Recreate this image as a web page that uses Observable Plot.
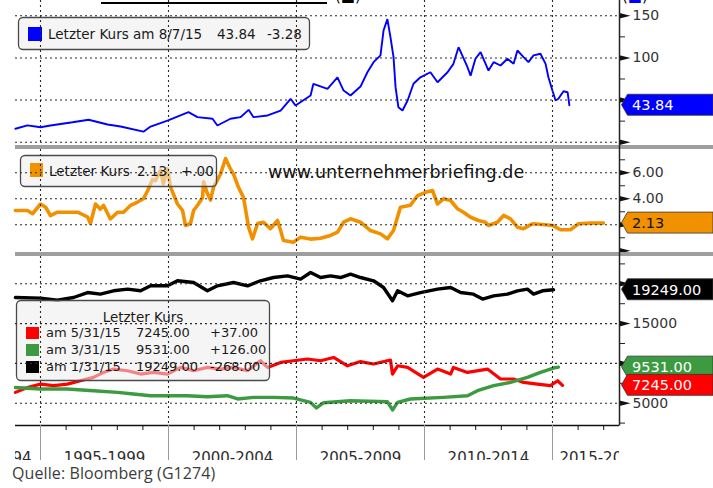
<!DOCTYPE html>
<html>
<head>
<meta charset="utf-8">
<script src="https://cdn.jsdelivr.net/npm/d3@7"></script>
<script src="https://cdn.jsdelivr.net/npm/@observablehq/plot@0.6"></script>
<style>
  html, body { margin: 0; padding: 0; background: #fff; }
  #root { position: relative; width: 713px; height: 488px; overflow: hidden; background: #fff; font-family: "DejaVu Sans", sans-serif; }
  .pw { position: absolute; left: 0; width: 713px; }
  .sep { position: absolute; left: 15px; width: 698px; height: 4px; background: #9f9f9f; }
  #caption { position: absolute; left: 12px; top: 464px; font-family: "Open Sans", sans-serif; font-size: 16px; letter-spacing: 0.1px; line-height: 19px; color: #3c3c3c; white-space: nowrap; }
  #topline { position: absolute; left: 101px; top: 2px; width: 226px; height: 2px; background: #000; }
  .remnant { position: absolute; top: -12px; font-size: 15px; line-height: 16px; white-space: nowrap; color: #000; }
</style>
</head>
<body>
<div id="root"></div>
<script>
// ---------------- DATA ----------------
const wtiYears = [1994.02,1994.49,1995.00,1995.39,1996.25,1996.88,1997.62,1998.13,1999.02,1999.30,1999.96,2000.78,2001.13,2001.72,2001.91,2002.42,2002.81,2003.13,2003.32,2003.87,2004.38,2004.77,2004.96,2005.55,2005.66,2006.21,2006.60,2006.84,2007.11,2007.50,2007.77,2008.01,2008.28,2008.40,2008.55,2008.67,2008.79,2008.87,2008.98,2009.14,2009.34,2009.57,2009.84,2010.23,2010.51,2010.90,2011.13,2011.33,2011.68,2011.80,2011.99,2012.19,2012.50,2012.70,2012.97,2013.24,2013.48,2013.63,2013.87,2014.06,2014.26,2014.53,2014.73,2014.84,2015.00,2015.12,2015.23,2015.43,2015.59,2015.66];
const wti = [16,20,17.8,19.8,23.7,26.6,21,18.6,12.5,18.6,25.7,35.6,29.7,27.8,19.8,27.8,29.7,38.4,29.7,31.7,37.6,51.5,43.5,55.4,69.3,63.4,77,61.3,55.4,66,83,95,103,132.5,146,124.6,101,65,41.5,37.6,49.5,69.3,77,83,71.2,83,93,112.7,89,79,99,106.8,85,95,91,99,93,108.8,101,95,103,105,93,77,61,49.5,51.5,60.5,59.3,43.84];
const gasYears = [1994.02,1994.49,1994.69,1995.00,1995.20,1995.39,1995.66,1996.05,1996.45,1996.84,1996.95,1997.15,1997.34,1997.46,1997.73,1998.01,1998.24,1998.52,1998.79,1999.02,1999.18,1999.38,1999.49,1999.69,1999.80,1999.96,2000.08,2000.35,2000.55,2000.66,2000.86,2000.98,2001.17,2001.33,2001.37,2001.52,2001.64,2001.76,2002.03,2002.23,2002.42,2002.54,2002.73,2002.93,2003.13,2003.28,2003.48,2003.71,2003.98,2004.26,2004.38,2004.49,2004.88,2005.16,2005.55,2005.94,2006.33,2006.60,2006.84,2007.11,2007.50,2007.89,2008.28,2008.55,2008.79,2009.06,2009.45,2009.73,2010.04,2010.31,2010.51,2010.74,2011.02,2011.29,2011.52,2011.80,2012.11,2012.38,2012.50,2012.85,2013.09,2013.36,2013.63,2013.87,2014.22,2014.61,2015.00,2015.31,2015.70,2016.02,2016.48,2016.99];
const gas = [3.1,3.1,2.85,3.6,3.35,2.7,2.97,2.97,2.97,2.6,2.1,3.6,3.2,3.5,2.45,2.97,2.97,3.5,3.75,4.0,4.6,5.5,5.4,6.2,5.15,6.3,4.9,3.6,3.1,1.95,2.1,3.1,3.6,4.1,5.3,4.4,3.9,4.9,5.9,7.1,6.3,5.9,4.9,4.1,1.8,0.92,2.1,2.2,1.7,2.33,1.56,0.8,0.66,1.05,0.9,0.97,1.18,1.43,2.2,2.46,2.2,1.56,1.3,0.92,1.56,3.35,3.5,4.25,4.5,4.64,3.6,4.0,3.87,3.23,2.97,2.58,2.33,2.2,1.95,2.2,2.72,2.46,1.82,1.7,2.08,2.02,1.95,1.62,1.62,2.08,2.13,2.13];
const blackYears = [1994.02,1995.00,1995.66,1996.29,1996.84,1997.34,1997.85,1998.40,1998.91,1999.30,1999.96,2000.35,2000.98,2001.52,2001.91,2002.54,2003.09,2003.59,2004.10,2004.65,2005.16,2005.55,2005.94,2006.33,2006.72,2007.11,2007.50,2008.01,2008.40,2008.75,2008.95,2009.34,2009.84,2010.51,2011.02,2011.41,2011.91,2012.27,2012.70,2013.24,2013.63,2014.02,2014.26,2014.61,2015.04];
const blackVals = [18280,18200,17950,18280,18900,18700,19120,19330,19120,19750,19750,20380,20160,19120,19750,20160,19750,20380,20790,21000,20590,21420,20790,21000,20790,21210,20790,20380,19540,17870,19120,18490,18900,19330,19540,18900,18700,18080,18490,18700,19120,19330,18700,19120,19249];
const redYears = [1994.02,1994.49,1995.00,1995.51,1996.05,1996.56,1997.07,1997.46,1997.85,1998.40,1998.91,1999.41,1999.96,2000.47,2000.98,2001.52,2002.03,2002.54,2003.09,2003.59,2003.87,2004.38,2004.88,2005.43,2005.94,2006.45,2006.99,2007.50,2008.01,2008.67,2008.75,2008.95,2009.34,2009.96,2010.51,2011.02,2011.13,2011.68,2012.46,2012.97,2013.48,2013.87,2014.41,2014.92,2015.20,2015.39];
const redVals = [6360,6980,7400,7200,7400,7820,8240,8870,9290,9080,8660,8870,8660,9500,9080,9500,9290,9500,9080,10330,9500,10120,10330,10550,10330,10750,9700,10230,9920,10420,8660,9700,9500,8240,9290,8660,9500,8870,9290,8040,8040,7610,7400,7200,7820,7245];
const greenYears = [1994.02,1995.00,1996.05,1997.07,1998.01,1998.63,1999.30,1999.96,2000.74,2001.52,2002.30,2002.70,2003.32,2004.10,2004.88,2005.55,2005.78,2006.05,2007.11,2008.55,2008.75,2008.95,2009.45,2010.74,2011.68,2012.07,2012.70,2013.36,2014.02,2014.53,2015.04,2015.23];
const greenVals = [6980,6780,6780,6570,6360,6150,5940,5940,5940,5820,5940,5530,5730,5730,5650,5100,4400,5050,5310,5190,4150,5100,5530,5730,5940,6570,7200,7610,8240,8870,9420,9531];

const gridYears = [1995, 2000, 2005, 2010, 2015];
const allYears = d3.range(1995, 2018);
const periodStarts = [1990, 1995, 2000, 2005, 2010, 2015];
const periods = ["1990-1994", "1995-1999", "2000-2004", "2005-2009", "2010-2014", "2015-2019"];
const p1Major = [0, 50, 100, 150], p1Labels = [100, 150], p1Minor = [25, 75, 125];
const p2Major = [0, 2, 4, 6], p2Grid = [2, 4, 6], p2Labels = [4, 6], p2Minor = [1, 3, 5, 7];
const p3Major = [5000, 10000, 15000, 20000], p3Labels = [5000, 15000], p3Minor = [2500, 7500, 12500, 17500, 22500];

const legendTop = ["Letzter Kurs am 8/7/15", "43.84", "-3.28"];
const legendMid = ["Letzter Kurs", "2.13", "+.00"];
const watermark = "www.unternehmerbriefing.de";
const legendBottomTitle = "Letzter Kurs";
const legendBottomDates = ["am 5/31/15", "am 3/31/15", "am 1/31/15"];
const legendBottomVals = ["7245.00", "9531.00", "19249.00"];
const legendBottomChg = ["+37.00", "+126.00", "-268.00"];
const caption = "Quelle: Bloomberg (G1274)";

// ---------------- STYLE ----------------
const BLUE = "#0000ff", ORANGE = "#f29100", BLACK = "#000000", RED = "#ff0000", GREEN = "#3c9b41";
const xDomain = [1994.0234, 2017.6172];
const root = document.getElementById("root");
const gridStyle = {stroke: "#2a2a2a", strokeWidth: 1.1, strokeDasharray: "2,3"};
const triSym = {draw(ctx) { ctx.moveTo(0, -2.8); ctx.lineTo(11, 0); ctx.lineTo(0, 2.8); ctx.closePath(); }};
const FONT = "DejaVu Sans, sans-serif";

function base(height, marginBottom, yDomain, marks) {
  return Plot.plot({
    width: 713, height, marginLeft: 15, marginRight: 94, marginTop: 0, marginBottom,
    x: {type: "linear", domain: xDomain, axis: null},
    y: {type: "linear", domain: yDomain, axis: null},
    style: {background: "white", fontFamily: FONT, fontSize: "14px", overflow: "hidden"},
    marks
  });
}
function rightAxis(major, labels, minor, fmt) {
  return [
    Plot.axisY(minor, {anchor: "right", tickSize: 5, tickFormat: () => "", stroke: "#222", label: null}),
    Plot.axisY(labels, {anchor: "right", tickSize: 0, tickPadding: 13, tickFormat: fmt, fill: "#333", fontSize: 14, label: null}),
    Plot.dot(major, {y: d => d, frameAnchor: "right", symbol: triSym, r: 3, fill: "#111", stroke: "none"})
  ];
}
function place(node, top) {
  const div = document.createElement("div");
  div.className = "pw";
  div.style.top = top + "px";
  div.appendChild(node);
  root.appendChild(div);
}
function box(g, x, y, w, h) {
  g.append("rect").attr("x", x).attr("y", y).attr("width", w).attr("height", h).attr("rx", 4.5)
    .attr("fill", "#ececec").attr("fill-opacity", 0.55).attr("stroke", "#4a4a4a").attr("stroke-width", 1.3);
}
function lg() {
  return d3.create("svg:g").attr("font-family", FONT).attr("text-anchor", "start").attr("fill", "#1a1a1a");
}

// ---------------- PANEL 1 ----------------
const legend1 = () => {
  const g = lg().attr("font-size", 13.5);
  box(g, 18.5, 17.5, 291, 32);
  g.append("rect").attr("x", 28).attr("y", 27).attr("width", 14).attr("height", 14).attr("fill", BLUE);
  g.append("text").attr("x", 48).attr("y", 39).text(legendTop[0]);
  g.append("text").attr("x", 217).attr("y", 39).text(legendTop[1]);
  g.append("text").attr("x", 267).attr("y", 39).text(legendTop[2]);
  return g.node();
};
const y1Domain = [-3.92, 168.16];
const chart1 = base(145, 0, y1Domain, [
  Plot.line(wti, {x: wtiYears, y: wti, stroke: BLUE, strokeWidth: 1.9, strokeLinejoin: "miter"}),
  legend1,
  Plot.ruleX(gridYears, gridStyle),
  Plot.ruleY(p1Major, gridStyle),
  ...rightAxis(p1Major, p1Labels, p1Minor, d3.format("d"))
]);
place(chart1, 0);

// ---------------- PANEL 2 ----------------
const legend2 = () => {
  const g = lg();
  box(g, 20.5, 6.5, 196, 31);
  g.append("rect").attr("x", 30).attr("y", 14).attr("width", 13).attr("height", 14).attr("fill", ORANGE);
  g.append("text").attr("x", 49).attr("y", 27).attr("font-size", 13.5).text(legendMid[0]);
  g.append("text").attr("x", 137).attr("y", 27).attr("font-size", 13.5).text(legendMid[1]);
  g.append("text").attr("x", 181).attr("y", 27).attr("font-size", 13.5).text(legendMid[2]);
  g.append("text").attr("x", 268).attr("y", 29).attr("font-size", 17.5).attr("fill", "#111").text(watermark);
  return g.node();
};
const y2Domain = [-0.131, 7.792];
const chart2 = base(103, 0, y2Domain, [
  Plot.line(gas, {x: gasYears, y: gas, stroke: ORANGE, strokeWidth: 3.6, strokeLinejoin: "round"}),
  legend2,
  Plot.ruleX(gridYears, gridStyle),
  Plot.ruleY(p2Grid, gridStyle),
  ...rightAxis(p2Major, p2Labels, p2Minor, d3.format(".2f"))
]);
place(chart2, 149);

// ---------------- PANEL 3 ----------------
const legend3 = () => {
  const g = lg().attr("font-size", 13);
  box(g, 16.5, 44.5, 253, 80);
  g.append("text").attr("x", 143).attr("y", 66).attr("text-anchor", "middle").attr("font-size", 13.5).text(legendBottomTitle);
  const cols = [RED, GREEN, BLACK];
  legendBottomDates.forEach((d, i) => {
    const by = 81 + i * 17;
    g.append("rect").attr("x", 26).attr("y", by - 10).attr("width", 13).attr("height", 12).attr("fill", cols[i]);
    g.append("text").attr("x", 46).attr("y", by).text(d);
    g.append("text").attr("x", 136).attr("y", by).text(legendBottomVals[i]);
    g.append("text").attr("x", 210).attr("y", by).text(legendBottomChg[i]);
  });
  return g.node();
};
const y3Domain = [2199, 23430];
const labelStyle = {frameAnchor: "bottom", dy: 37, lineAnchor: "bottom", fontSize: 15, fill: "#2d2d2d"};
const chart3 = base(204, 35, y3Domain, [
  Plot.line(blackVals, {x: blackYears, y: blackVals, stroke: BLACK, strokeWidth: 3.4, strokeLinejoin: "round"}),
  Plot.line(redVals, {x: redYears, y: redVals, stroke: RED, strokeWidth: 3.2, strokeLinejoin: "round"}),
  Plot.line(greenVals, {x: greenYears, y: greenVals, stroke: GREEN, strokeWidth: 3.4, strokeLinejoin: "round"}),
  legend3,
  Plot.ruleX(gridYears, gridStyle),
  Plot.ruleY(p3Major, gridStyle),
  ...rightAxis(p3Major, p3Labels, p3Minor, d3.format("d")),
  Plot.ruleY([y3Domain[0]], {stroke: "#111", strokeWidth: 1.4}),
  Plot.axisX(allYears, {anchor: "bottom", tickSize: 5, tickFormat: () => "", stroke: "#111", label: null}),
  Plot.axisX(gridYears, {anchor: "bottom", tickSize: 35, tickFormat: () => "", stroke: "#999", label: null}),
  Plot.text([0], {x: () => periodStarts[1], text: () => periods[0], textAnchor: "end", dx: -9, ...labelStyle}),
  Plot.text(d3.range(1, periods.length - 1), {x: i => periodStarts[i] + 2.5, text: i => periods[i], textAnchor: "middle", ...labelStyle}),
  Plot.text([periods.length - 1], {x: i => periodStarts[i], text: i => periods[i], textAnchor: "start", dx: 7, ...labelStyle})
]);
{
  const s = d3.select(chart3);
  s.append("defs").append("clipPath").attr("id", "pclip")
    .append("rect").attr("x", 15).attr("y", 0).attr("width", 604).attr("height", 204);
  const wrap = s.append("g").attr("clip-path", "url(#pclip)");
  const parents = new Set();
  s.selectAll("text").each(function () { if (periods.includes(this.textContent)) parents.add(this.parentNode); });
  parents.forEach(p => wrap.node().appendChild(p));
}
place(chart3, 256);

[145, 252].forEach(t => { const d = document.createElement("div"); d.className = "sep"; d.style.top = t + "px"; root.appendChild(d); });

// ---------------- OVERLAY: axis line + value flags ----------------
const ov = d3.select(root).append("svg").attr("width", 713).attr("height", 488)
  .style("position", "absolute").style("left", 0).style("top", 0).style("pointer-events", "none");
ov.append("line").attr("x1", 619.5).attr("x2", 619.5).attr("y1", 0).attr("y2", 425.5).attr("stroke", "#222").attr("stroke-width", 1.5);
const flags = [
  {v: wti[wti.length - 1], sc: chart1.scale("y"), top: 0, fill: BLUE, tc: "#fff"},
  {v: gas[gas.length - 1], sc: chart2.scale("y"), top: 149, fill: ORANGE, tc: "#111"},
  {v: blackVals[blackVals.length - 1], sc: chart3.scale("y"), top: 256, fill: BLACK, tc: "#fff"},
  {v: greenVals[greenVals.length - 1], sc: chart3.scale("y"), top: 256, fill: GREEN, tc: "#fff"},
  {v: redVals[redVals.length - 1], sc: chart3.scale("y"), top: 256, fill: RED, tc: "#fff"}
];
flags.forEach(f => {
  const cy = f.top + f.sc.apply(f.v), h = 21;
  ov.append("path")
    .attr("d", `M621.5,${cy} L627.5,${cy - h / 2} L713,${cy - h / 2} L713,${cy + h / 2} L627.5,${cy + h / 2} Z`)
    .attr("fill", f.fill).attr("stroke", "#333").attr("stroke-width", 0.8);
  ov.append("text").attr("x", 632).attr("y", cy).attr("dy", "0.36em")
    .attr("font-family", FONT).attr("font-size", 14.5).attr("fill", f.tc).text(d3.format(".2f")(f.v));
});

// ---------------- TOP REMNANTS & CAPTION ----------------
const tl = document.createElement("div"); tl.id = "topline"; root.appendChild(tl);
const r1 = document.createElement("div"); r1.className = "remnant"; r1.style.left = "335px";
r1.innerHTML = '(<span style="color:#000">■</span>)'; root.appendChild(r1);
const r2 = document.createElement("div"); r2.className = "remnant"; r2.style.left = "622px";
r2.innerHTML = '(<span style="color:' + BLUE + '">■</span>)'; root.appendChild(r2);
const cap = document.createElement("div"); cap.id = "caption"; cap.textContent = caption; root.appendChild(cap);
</script>
</body>
</html>
